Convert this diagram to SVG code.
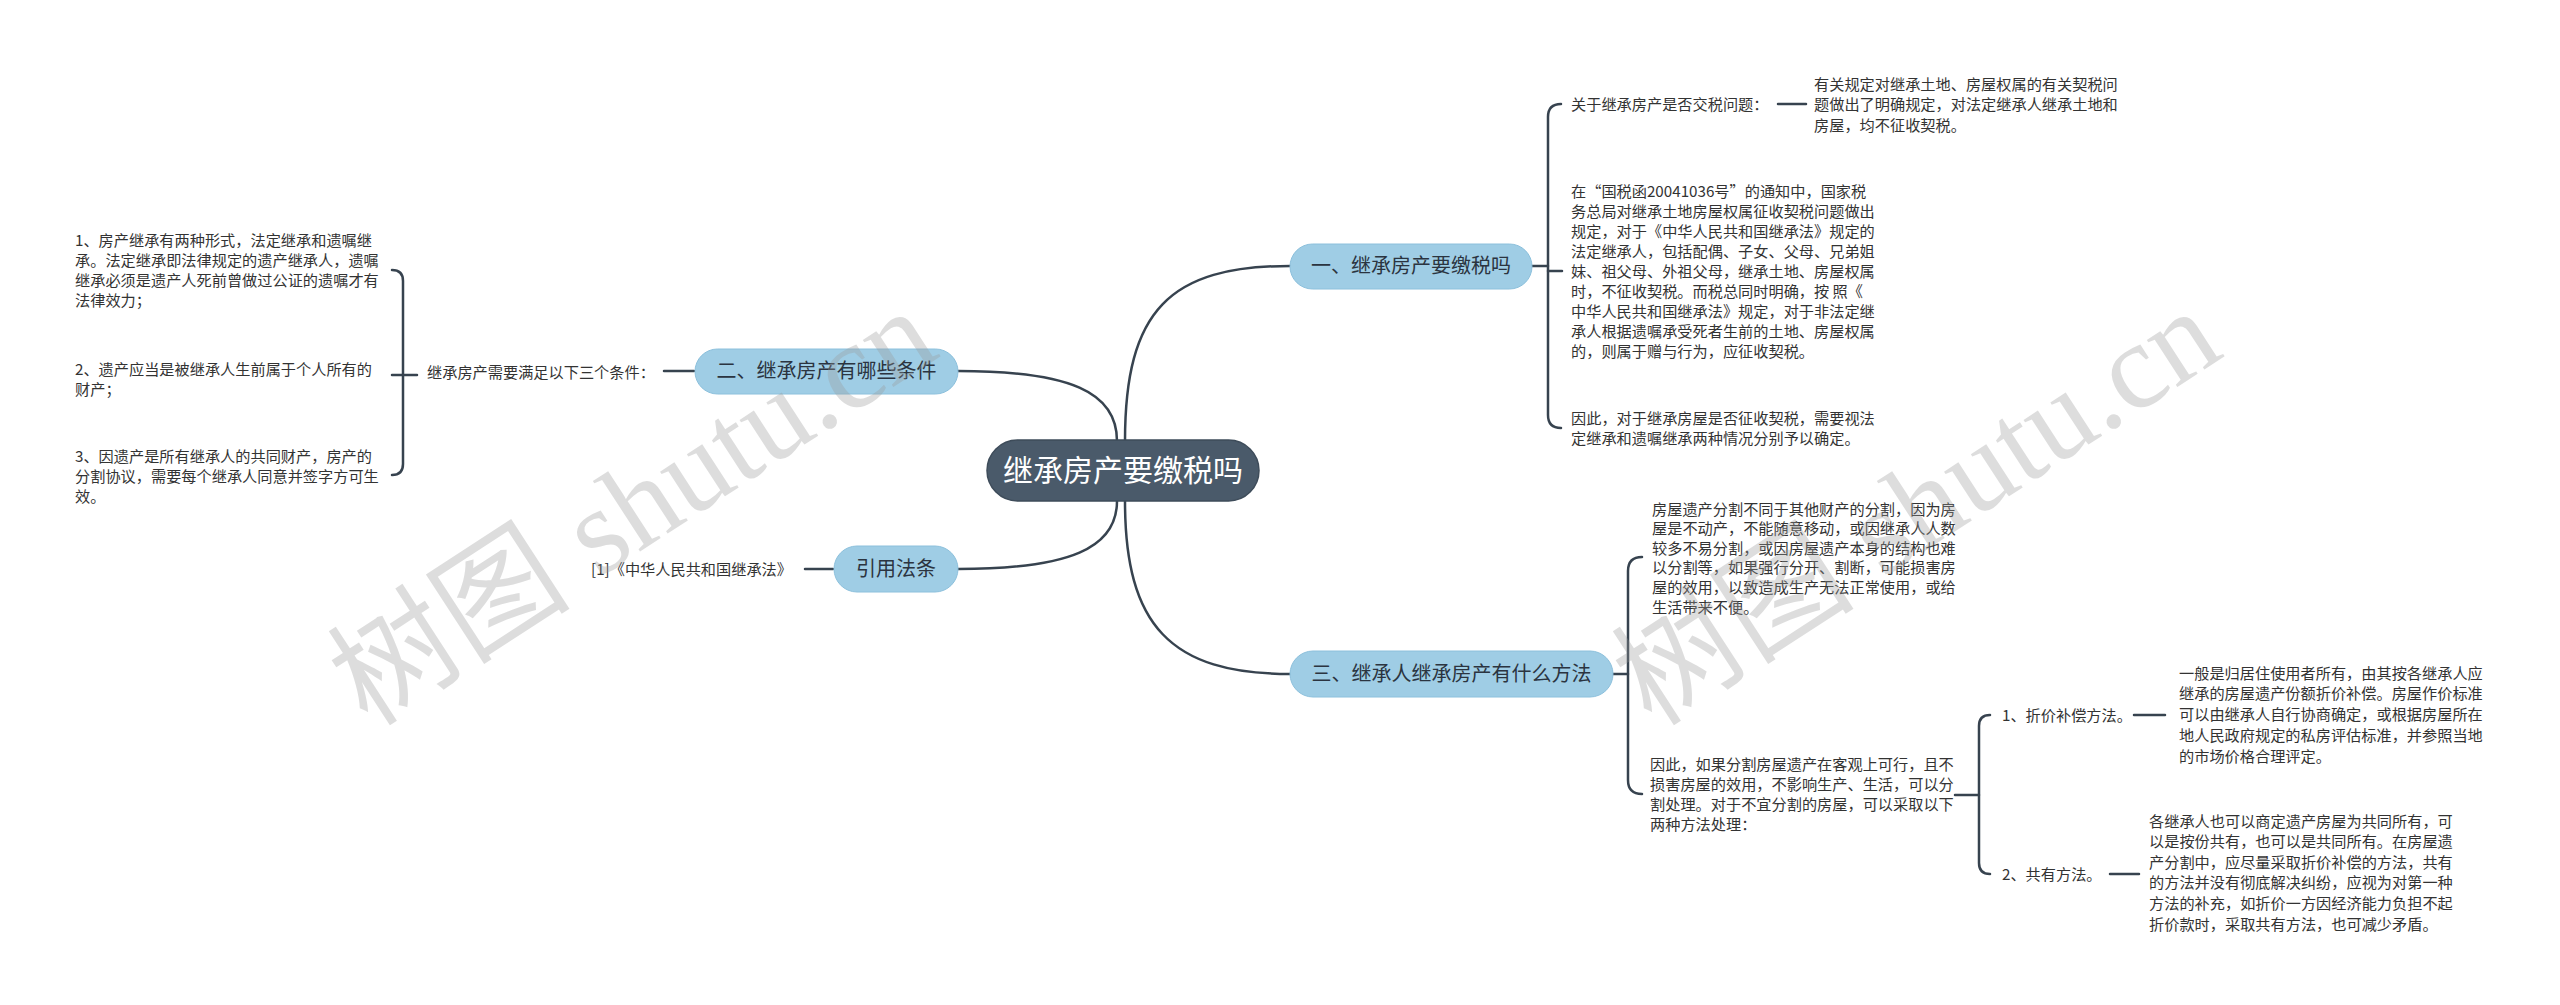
<svg xmlns="http://www.w3.org/2000/svg" width="2560" height="1005" viewBox="0 0 2560 1005">
<style>
.t{font-family:"Noto Sans CJK SC","Noto Sans",sans-serif;font-size:15.2px;fill:#333}
.nt{font-family:"Noto Sans CJK SC","Noto Sans",sans-serif;font-size:20px;fill:#2b3440;text-anchor:middle}
.ct{font-family:"Noto Sans CJK SC","Noto Sans",sans-serif;font-size:30px;fill:#fff;text-anchor:middle}
.n{fill:#9fcde5;stroke:#8cc0dc;stroke-width:1}
.c{fill:#4a5a6a;stroke:#3e4c5a;stroke-width:1.5}
.l{fill:none;stroke:#37434f;stroke-width:2.5;stroke-linecap:round}
.wm{font-family:"Liberation Serif","Noto Sans CJK SC",serif;font-size:122px;fill:#9a9a9a;opacity:0.33}
</style>
<rect width="2560" height="1005" fill="#fff"/>
<g id="connectors">
<path class="l" d="M1125,441 C1125,310 1170,266 1290,266"/>
<path class="l" d="M1117,441 C1117,392 1070,371 958,371"/>
<path class="l" d="M1117,501 C1117,548 1070,569 958,569"/>
<path class="l" d="M1125,501 C1125,625 1170,674 1290,674"/>
<path class="l" d="M1531,266 H1548"/>
<path class="l" d="M1561,104 Q1548,104 1548,117 L1548,415 Q1548,428 1561,428"/>
<path class="l" d="M1548,271 H1562"/>
<path class="l" d="M1778,104 H1806"/>
<path class="l" d="M694,371 H664"/>
<path class="l" d="M392,270 Q403,270 403,281 L403,464 Q403,475 392,475"/>
<path class="l" d="M392,375 H417"/>
<path class="l" d="M833,569 H805"/>
<path class="l" d="M1612,674 H1628"/>
<path class="l" d="M1642,557 Q1628,557 1628,571 L1628,780 Q1628,794 1642,794"/>
<path class="l" d="M1955,795 H1979"/>
<path class="l" d="M1990,715 Q1979,715 1979,726 L1979,863 Q1979,874 1990,874"/>
<path class="l" d="M2134,715 H2165"/>
<path class="l" d="M2110,874 H2139"/>
</g>
<g id="center">
<rect class="c" x="987" y="440" width="272" height="61" rx="30.5"/>
<text class="ct" x="1123" y="481">继承房产要缴税吗</text>
</g>
<g id="node1">
<rect class="n" x="1290" y="244" width="242" height="45" rx="22.5"/>
<text class="nt" x="1411" y="273">一、继承房产要缴税吗</text>
</g>
<g id="node1a"><text class="t" x="1571" y="109.5">关于继承房产是否交税问题：</text></g>
<g id="node1a1"><text class="t" x="1814" y="89.5">有关规定对继承土地、房屋权属的有关契税问<tspan x="1814" dy="20.5">题做出了明确规定，对法定继承人继承土地和</tspan><tspan x="1814" dy="20.5">房屋，均不征收契税。</tspan></text></g>
<g id="node1b"><text class="t" x="1571" y="196.5">在“国税函20041036号”的通知中，国家税<tspan x="1571" dy="20">务总局对继承土地房屋权属征收契税问题做出</tspan><tspan x="1571" dy="20">规定，对于《中华人民共和国继承法》规定的</tspan><tspan x="1571" dy="20">法定继承人，包括配偶、子女、父母、兄弟姐</tspan><tspan x="1571" dy="20">妹、祖父母、外祖父母，继承土地、房屋权属</tspan><tspan x="1571" dy="20">时，不征收契税。而税总同时明确，按 照《</tspan><tspan x="1571" dy="20">中华人民共和国继承法》规定，对于非法定继</tspan><tspan x="1571" dy="20">承人根据遗嘱承受死者生前的土地、房屋权属</tspan><tspan x="1571" dy="20">的，则属于赠与行为，应征收契税。</tspan></text></g>
<g id="node1c"><text class="t" x="1571" y="423.5">因此，对于继承房屋是否征收契税，需要视法<tspan x="1571" dy="20.5">定继承和遗嘱继承两种情况分别予以确定。</tspan></text></g>
<g id="node2">
<rect class="n" x="695" y="349" width="263" height="45" rx="22.5"/>
<text class="nt" x="826.5" y="378">二、继承房产有哪些条件</text>
</g>
<g id="node2a"><text class="t" x="427" y="377.5">继承房产需要满足以下三个条件：</text></g>
<g id="node2a1"><text class="t" x="75" y="245.5">1、房产继承有两种形式，法定继承和遗嘱继<tspan x="75" dy="20">承。法定继承即法律规定的遗产继承人，遗嘱</tspan><tspan x="75" dy="20">继承必须是遗产人死前曾做过公证的遗嘱才有</tspan><tspan x="75" dy="20">法律效力；</tspan></text></g>
<g id="node2a2"><text class="t" x="75" y="374.5">2、遗产应当是被继承人生前属于个人所有的<tspan x="75" dy="20">财产；</tspan></text></g>
<g id="node2a3"><text class="t" x="75" y="461.5">3、因遗产是所有继承人的共同财产，房产的<tspan x="75" dy="20">分割协议，需要每个继承人同意并签字方可生</tspan><tspan x="75" dy="20">效。</tspan></text></g>
<g id="node4">
<rect class="n" x="834" y="546" width="124" height="46" rx="23"/>
<text class="nt" x="896" y="576">引用法条</text>
</g>
<g id="node4a"><text class="t" x="792" y="574.5" text-anchor="end">[1]《中华人民共和国继承法》</text></g>
<g id="node3">
<rect class="n" x="1290" y="651" width="323" height="46" rx="23"/>
<text class="nt" x="1451.5" y="681">三、继承人继承房产有什么方法</text>
</g>
<g id="node3a"><text class="t" x="1652" y="514.5">房屋遗产分割不同于其他财产的分割，因为房<tspan x="1652" dy="19.6">屋是不动产，不能随意移动，或因继承人人数</tspan><tspan x="1652" dy="19.6">较多不易分割，或因房屋遗产本身的结构也难</tspan><tspan x="1652" dy="19.6">以分割等，如果强行分开、割断，可能损害房</tspan><tspan x="1652" dy="19.6">屋的效用，以致造成生产无法正常使用，或给</tspan><tspan x="1652" dy="19.6">生活带来不便。</tspan></text></g>
<g id="node3b"><text class="t" x="1650" y="769.5">因此，如果分割房屋遗产在客观上可行，且不<tspan x="1650" dy="20.3">损害房屋的效用，不影响生产、生活，可以分</tspan><tspan x="1650" dy="20.3">割处理。对于不宜分割的房屋，可以采取以下</tspan><tspan x="1650" dy="20.3">两种方法处理：</tspan></text></g>
<g id="node3b1"><text class="t" x="2002" y="720.5">1、折价补偿方法。</text></g>
<g id="node3b1a"><text class="t" x="2179" y="678.5">一般是归居住使用者所有，由其按各继承人应<tspan x="2179" dy="20.75">继承的房屋遗产份额折价补偿。房屋作价标准</tspan><tspan x="2179" dy="20.75">可以由继承人自行协商确定，或根据房屋所在</tspan><tspan x="2179" dy="20.75">地人民政府规定的私房评估标准，并参照当地</tspan><tspan x="2179" dy="20.75">的市场价格合理评定。</tspan></text></g>
<g id="node3b2"><text class="t" x="2002" y="879.5">2、共有方法。</text></g>
<g id="node3b2a"><text class="t" x="2149" y="826.5">各继承人也可以商定遗产房屋为共同所有，可<tspan x="2149" dy="20.6">以是按份共有，也可以是共同所有。在房屋遗</tspan><tspan x="2149" dy="20.6">产分割中，应尽量采取折价补偿的方法，共有</tspan><tspan x="2149" dy="20.6">的方法并没有彻底解决纠纷，应视为对第一种</tspan><tspan x="2149" dy="20.6">方法的补充，如折价一方因经济能力负担不起</tspan><tspan x="2149" dy="20.6">折价款时，采取共有方法，也可减少矛盾。</tspan></text></g>
<g id="watermarks">
<text class="wm" transform="translate(368,728) rotate(-33)">树图 shutu.cn</text>
<text class="wm" transform="translate(1652,728) rotate(-33)">树图 shutu.cn</text>
</g>
</svg>
